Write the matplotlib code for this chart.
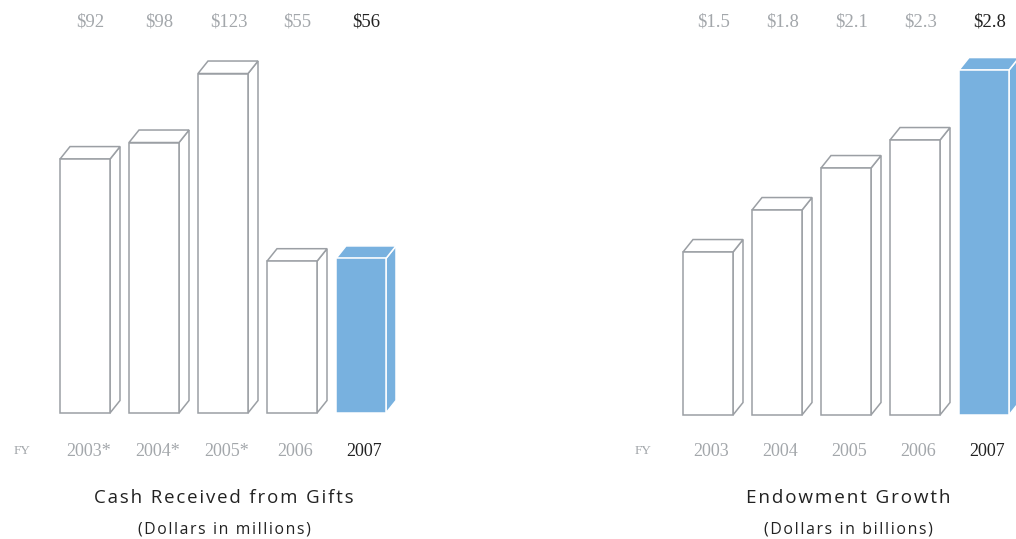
import matplotlib
matplotlib.use("Agg")
import matplotlib.pyplot as plt
import matplotlib.transforms as mtransforms
from matplotlib.patches import Polygon

# ---- data ----
years_gifts = ["2003*", "2004*", "2005*", "2006", "2007"]
gifts = [92, 98, 123, 55, 56]
gift_labels = ["$92", "$98", "$123", "$55", "$56"]

years_endow = ["2003", "2004", "2005", "2006", "2007"]
endow = [1.5, 1.8, 2.1, 2.3, 2.8]
endow_labels = ["$1.5", "$1.8", "$2.1", "$2.3", "$2.8"]

W, H = 1016, 539
fig = plt.figure(figsize=(W / 100, H / 100), dpi=100)
renderer = fig.canvas.get_renderer()

GRAY_EDGE = "#9b9fa4"
GRAY_TXT = "#a3a7ab"
BLUE = "#78b1df"
DARK = "#222222"
SERIF = ["Liberation Serif", "DejaVu Serif"]
SANS = ["Open Sans", "DejaVu Sans"]


def tracked_text(xc, yc, s, size, target_w):
    """Centered figure text with letter spacing chosen to reach a target pixel width."""
    best = None
    for sp in ["", "\u200a", "\u2006", "\u2009", "\u200a\u200a", "\u2005"]:
        txt = sp.join(s)
        t = fig.text(xc / W, 1 - yc / H, txt, ha="center", va="center", fontsize=size,
                     color=DARK, family=SANS)
        w = t.get_window_extent(renderer=renderer).width
        t.remove()
        if best is None or abs(w - target_w) < abs(best[1] - target_w):
            best = (txt, w)
    txt, w = best
    fs = size * min(1.06, max(0.94, target_w / w))
    fig.text(xc / W, 1 - yc / H, txt, ha="center", va="center", fontsize=fs,
             color=DARK, family=SANS)


def px_axes(left, right, bottom, top):
    return fig.add_axes([left / W, 1 - bottom / H, (right - left) / W, (bottom - top) / H])


def draw_chart(ax, x0px, step, left, right, bottom, top, values, ymin, ymax,
               years, labels, fy_x):
    ax.set_axis_off()
    ax.set_xlim((left - x0px) / step, (right - x0px) / step)
    ax.set_ylim(ymin, ymax)
    width = 50 / step
    dx = 10 / step
    dy = 12.5 * (ymax - ymin) / (bottom - top)
    n = len(values)
    for i, v in enumerate(values):
        last = i == n - 1
        fc = BLUE if last else "white"
        ec = "white" if last else GRAY_EDGE
        xl, xr = i - width / 2, i + width / 2
        side = Polygon([(xr, ymin), (xr, v), (xr + dx, v + dy), (xr + dx, ymin + dy)],
                       closed=True, facecolor=fc, edgecolor=ec, lw=1.1, clip_on=False, zorder=2)
        topf = Polygon([(xl, v), (xr, v), (xr + dx, v + dy), (xl + dx, v + dy)],
                       closed=True, facecolor=fc, edgecolor=ec, lw=1.1, clip_on=False, zorder=2)
        ax.add_patch(side)
        ax.add_patch(topf)
        ax.bar(i, v - ymin, bottom=ymin, width=width, facecolor=fc, edgecolor=ec,
               lw=1.1, zorder=3, clip_on=False)
    tr = mtransforms.blended_transform_factory(ax.transData, fig.transFigure)
    for i, (yr, lab) in enumerate(zip(years, labels)):
        last = i == n - 1
        col = DARK if last else GRAY_TXT
        ax.text(i + 0.08, 1 - 22 / H, lab, transform=tr, ha="center", va="center",
                fontsize=13.5, color=col, family=SERIF)
        ax.text(i + 0.05, 1 - 451 / H, yr, transform=tr, ha="center", va="center",
                fontsize=13, color=col, family=SERIF)
    ax.text((fy_x - x0px) / step, 1 - 451 / H, "FY", transform=tr, ha="center", va="center",
            fontsize=9.5, color=GRAY_TXT, family=SERIF)


ax1 = px_axes(0, 430, 413, 40)
draw_chart(ax1, 85, 69, 0, 430, 413, 40, gifts, 0, 373 / 2.76,
           years_gifts, gift_labels, 22)
tracked_text(224, 498, "Cash Received from Gifts", 13, 258)
tracked_text(224, 529, "(Dollars in millions)", 11.5, 173)

ax2 = px_axes(600, 1016, 415, 40)
draw_chart(ax2, 708, 69, 600, 1016, 415, 40, endow, 0.336, 0.336 + 375 / 140,
           years_endow, endow_labels, 643)
tracked_text(848, 498, "Endowment Growth", 13, 203)
tracked_text(848, 529, "(Dollars in billions)", 11.5, 169)

fig.savefig("out.png", dpi=100)
